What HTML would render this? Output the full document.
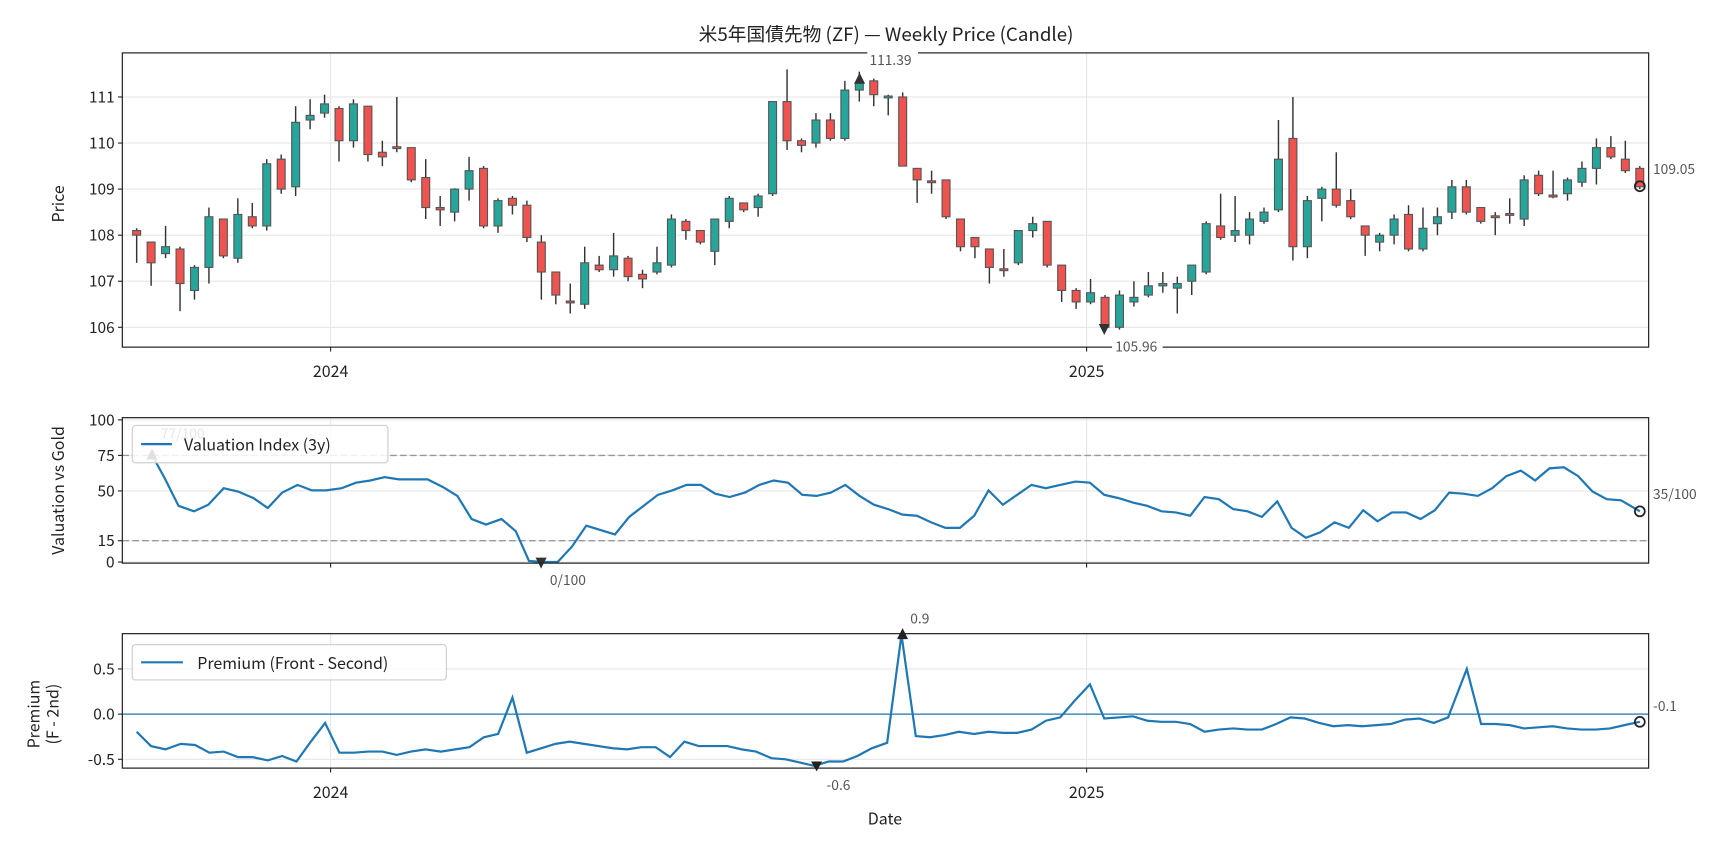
<!DOCTYPE html>
<html><head><meta charset="utf-8"><style>
html,body{margin:0;padding:0;background:#fff;width:1728px;height:849px;overflow:hidden}
svg{display:block}
text{font-family:"Noto Sans CJK JP","Liberation Sans",sans-serif;fill:#222}
</style></head><body>
<svg id="s" width="1728" height="849" viewBox="0 0 1568 770.4" xmlns="http://www.w3.org/2000/svg"></svg>
<script>
const C=[[108.1,108.0,108.15,107.4],[107.85,107.4,107.85,106.9],[107.6,107.75,108.2,107.5],[107.7,106.95,107.75,106.35],[106.8,107.3,107.35,106.6],[107.3,108.4,108.6,106.95],[108.35,107.55,108.35,107.5],[107.5,108.45,108.8,107.4],[108.4,108.2,108.7,108.15],[108.2,109.55,109.65,108.1],[109.65,109.0,109.75,108.9],[109.05,110.45,110.8,108.85],[110.5,110.6,110.95,110.3],[110.65,110.85,111.05,110.55],[110.75,110.05,110.8,109.6],[110.05,110.85,110.95,109.9],[110.8,109.75,110.8,109.6],[109.8,109.7,110.05,109.5],[109.92,109.88,111.0,109.8],[109.9,109.2,109.9,109.15],[109.25,108.6,109.65,108.35],[108.6,108.55,108.85,108.2],[108.5,109.0,109.02,108.3],[109.0,109.4,109.7,108.75],[109.45,108.2,109.5,108.15],[108.2,108.75,108.8,108.05],[108.8,108.65,108.85,108.45],[108.65,107.95,108.75,107.85],[107.85,107.2,108.0,106.6],[107.2,106.7,107.2,106.5],[106.57,106.53,106.95,106.3],[106.5,107.4,107.75,106.4],[107.35,107.25,107.55,107.2],[107.25,107.55,108.05,107.1],[107.5,107.1,107.55,107.0],[107.15,107.05,107.25,106.85],[107.2,107.4,107.75,107.15],[107.35,108.35,108.45,107.3],[108.3,108.1,108.35,107.9],[108.1,107.85,108.1,107.8],[107.65,108.35,108.35,107.35],[108.3,108.8,108.85,108.15],[108.7,108.55,108.7,108.5],[108.6,108.85,108.9,108.4],[108.9,110.9,110.9,108.85],[110.9,110.05,111.6,109.85],[110.05,109.95,110.1,109.8],[110.0,110.5,110.65,109.9],[110.5,110.1,110.65,110.05],[110.1,111.15,111.35,110.05],[111.15,111.3,111.55,110.9],[111.35,111.05,111.4,110.8],[110.98,111.02,111.05,110.6],[111.0,109.5,111.1,109.5],[109.45,109.2,109.45,108.7],[109.18,109.14,109.4,108.9],[109.2,108.4,109.2,108.35],[108.35,107.75,108.35,107.65],[107.95,107.75,107.95,107.5],[107.7,107.3,107.7,106.95],[107.27,107.23,107.7,107.1],[107.4,108.1,108.1,107.35],[108.1,108.25,108.4,107.95],[108.3,107.35,108.3,107.3],[107.35,106.8,107.35,106.55],[106.8,106.55,106.85,106.4],[106.55,106.75,107.05,106.5],[106.65,106.0,106.7,105.96],[106.0,106.7,106.8,105.95],[106.55,106.65,107.0,106.45],[106.7,106.9,107.2,106.65],[106.9,106.95,107.2,106.75],[106.85,106.95,107.1,106.3],[107.0,107.35,107.35,106.7],[107.2,108.25,108.3,107.15],[108.2,107.95,108.9,107.9],[108.0,108.1,108.85,107.85],[108.0,108.35,108.5,107.8],[108.3,108.5,108.6,108.25],[108.55,109.65,110.5,108.5],[110.1,107.75,111.0,107.45],[107.75,108.75,108.85,107.5],[108.8,109.0,109.05,108.3],[109.0,108.65,109.8,108.6],[108.75,108.4,109.0,108.35],[108.2,108.0,108.2,107.55],[107.85,108.0,108.05,107.65],[108.0,108.35,108.45,107.8],[108.45,107.7,108.65,107.65],[107.7,108.15,108.6,107.65],[108.25,108.4,108.6,108.0],[108.5,109.05,109.2,108.35],[109.05,108.5,109.2,108.45],[108.6,108.3,108.6,108.25],[108.42,108.38,108.5,108.0],[108.47,108.43,108.8,108.25],[108.35,109.2,109.3,108.2],[109.3,108.9,109.4,108.85],[108.87,108.83,109.4,108.8],[108.9,109.2,109.25,108.75],[109.15,109.45,109.6,109.05],[109.45,109.9,110.1,109.1],[109.9,109.7,110.15,109.65],[109.65,109.4,110.05,109.35],[109.45,109.05,109.5,109.0]];
const V=[[138,413],[150,435],[162,459],[176,464],[189,458],[203,443],[216,446],[230,452],[243,461],[256,447],[270,440],[283,445],[296,445],[310,443],[323,438],[336,436],[349,433],[362,435],[375,435],[388,435],[402,442],[415,450],[428,471],[441,476],[455,471],[468,482],[480,509],[493,510],[506,510],[519,496],[532,477],[545,481],[558,485],[571,469],[584,459],[597,449],[610,445],[623,440],[636,440],[649,448],[662,451],[676,447],[689,440],[702,436],[715,438],[728,449],[741,450],[754,447],[767,440],[780,450],[793,458],[806,462],[819,467],[832,468],[845,474],[858,479],[871,479],[884,468],[897,445],[910,458],[923,449],[936,440],[949,443],[962,440],[976,437],[989,438],[1002,449],[1015,452],[1028,456],[1041,459],[1054,464],[1067,465],[1080,468],[1093,451],[1106,453],[1119,462],[1132,464],[1145,469],[1159,455],[1172,479],[1185,488],[1198,483],[1211,474],[1224,479],[1237,463],[1250,473],[1263,465],[1276,465],[1289,471],[1302,463],[1315,447],[1328,448],[1341,450],[1354,443],[1367,432],[1380,427],[1393,436],[1406,425],[1419,424],[1432,432],[1445,446],[1458,453],[1471,454],[1488,464]];
const P=[[124,664],[137,677],[150,680],[164,675],[177,676],[190,683],[203,682],[216,687],[229,687],[243,690],[256,686],[269,691],[282,673],[295,656],[308,683],[321,683],[334,682],[347,682],[360,685],[373,682],[386,680],[400,682],[413,680],[426,678],[439,669],[452,666],[465,633],[478,683],[491,679],[504,675],[517,673],[530,675],[543,677],[556,679],[569,680],[582,678],[595,678],[608,687],[621,673],[634,677],[647,677],[660,677],[673,680],[686,682],[700,688],[713,689],[726,692],[739,695],[752,691],[765,691],[778,686],[791,679],[805,674],[818,576],[831,668],[844,669],[857,667],[870,664],[884,666],[897,664],[910,665],[923,665],[936,662],[949,654],[962,651],[975,636],[989,621],[1002,652],[1015,651],[1028,650],[1041,654],[1054,655],[1067,655],[1080,657],[1093,664],[1106,662],[1119,661],[1132,662],[1145,662],[1158,657],[1171,651],[1184,652],[1197,656],[1210,659],[1223,658],[1236,659],[1249,658],[1262,657],[1275,653],[1288,652],[1301,656],[1314,651],[1331,607],[1344,657],[1357,657],[1370,658],[1383,661],[1396,660],[1409,659],[1422,661],[1435,662],[1448,662],[1461,661],[1474,658],[1488,655]];
let h='';
const L=111,R=1496;
const py=p=>88+(111-p)*41.8;
function frame(t,b){h+=`<rect x="${L}" y="${t}" width="${R-L}" height="${b-t}" fill="none" stroke="#222" stroke-width="1.1"/>`;}
function hg(y){h+=`<line x1="${L}" x2="${R}" y1="${y}" y2="${y}" stroke="#e6e6e6" stroke-width="1"/>`;}
function vg(t,b){for(const x of [300,986]){h+=`<line x1="${x}" x2="${x}" y1="${t}" y2="${b}" stroke="#e6e6e6"/><line x1="${x}" x2="${x}" y1="${b}" y2="${b+4}" stroke="#222"/>`;}}
function yt(y,s){h+=`<line x1="${L-4}" x2="${L}" y1="${y}" y2="${y}" stroke="#222"/><text x="${L-7}" y="${y+5}" font-size="14" text-anchor="end">${s}</text>`;}
function lbl(x,y,s,anchor){h+=`<text x="${x}" y="${y}" font-size="12.5" style="fill:#555" text-anchor="${anchor||'start'}">${s}</text>`;}
h+=`<text x="804" y="37" font-size="17" text-anchor="middle">米5年国債先物 (ZF) — Weekly Price (Candle)</text>`;
for(let p=106;p<=111;p++){hg(py(p));yt(py(p),p);}
vg(48,315);
C.forEach((c,i)=>{const x=124+i*13.115;const [o,cl,hi,lo]=c;const up=cl>=o;
 h+=`<line x1="${x}" x2="${x}" y1="${py(hi)}" y2="${py(lo)}" stroke="#333" stroke-width="1.3"/>`;
 const t=py(Math.max(o,cl)),b=py(Math.min(o,cl));
 h+=`<rect x="${x-3.6}" y="${t}" width="7.2" height="${Math.max(b-t,1.5)}" fill="${up?'#26a69a':'#ef5350'}" stroke="#555" stroke-width="1"/>`;});
frame(48,315);
h+=`<text x="300" y="342" font-size="14.5" text-anchor="middle">2024</text><text x="986" y="342" font-size="14.5" text-anchor="middle">2025</text>`;
h+=`<text transform="translate(58,185) rotate(-90)" font-size="14.5" text-anchor="middle">Price</text>`;
h+=`<polygon points="775,76 785,76 780,66" fill="#333"/>`;h+=`<rect x="787" y="47" width="46" height="15" fill="#fff"/>`;lbl(789,59,'111.39');
h+=`<polygon points="997,294 1007,294 1002,304" fill="#333"/>`;h+=`<rect x="1009" y="307" width="46" height="14" fill="#fff"/>`;lbl(1012,319,'105.96');
h+=`<circle cx="1488" cy="169" r="4.5" fill="none" stroke="#222" stroke-width="1.6"/>`;lbl(1500,158,'109.05');
const vy=v=>510-v*1.29;
[[100,'100'],[75,'75'],[50,'50'],[15,'15'],[0,'0']].forEach(([v,s])=>{hg(vy(v));yt(vy(v),s);});
vg(379,511);
h+=`<line x1="${L}" x2="${R}" y1="${vy(75)}" y2="${vy(75)}" stroke="#999" stroke-dasharray="6,3" stroke-width="1.2"/>`;
h+=`<line x1="${L}" x2="${R}" y1="${vy(15)}" y2="${vy(15)}" stroke="#999" stroke-dasharray="6,3" stroke-width="1.2"/>`;
h+=`<polyline points="${V.map(p=>p.join(',')).join(' ')}" fill="none" stroke="#1f77b4" stroke-width="2"/>`;
lbl(146,398,'77/100');
h+=`<polygon points="133,417 143,417 138,407" fill="#333"/>`;
h+=`<polygon points="486,506 496,506 491,516" fill="#333"/>`;lbl(499,531,'0/100');
h+=`<circle cx="1488" cy="464" r="4.5" fill="none" stroke="#222" stroke-width="1.6"/>`;lbl(1500,453,'35/100');
h+=`<rect x="120" y="386" width="232" height="34" rx="3" fill="#fff" fill-opacity="0.85" stroke="#ccc"/><line x1="128" x2="156" y1="403" y2="403" stroke="#1f77b4" stroke-width="2"/><text x="167" y="409" font-size="14.5">Valuation Index (3y)</text>`;
frame(379,511);
h+=`<text transform="translate(58,445) rotate(-90)" font-size="14.5" text-anchor="middle">Valuation vs Gold</text>`;
const ry=v=>648-v*82;
[[0.5,'0.5'],[0,'0.0'],[-0.5,'-0.5']].forEach(([v,s])=>{hg(ry(v));yt(ry(v),s);});
vg(575,697);
h+=`<line x1="${L}" x2="${R}" y1="648" y2="648" stroke="#1f77b4" stroke-width="1.2"/>`;
h+=`<polyline points="${P.map(p=>p.join(',')).join(' ')}" fill="none" stroke="#1f77b4" stroke-width="2"/>`;
h+=`<polygon points="814,580 824,580 819,570" fill="#222"/>`;lbl(826,566,'0.9');
h+=`<polygon points="736,691 746,691 741,700" fill="#222"/>`;lbl(750,717,'-0.6');
h+=`<circle cx="1488" cy="655" r="4.5" fill="none" stroke="#222" stroke-width="1.6"/>`;lbl(1500,645,'-0.1');
h+=`<rect x="120" y="585" width="285" height="32" rx="3" fill="#fff" fill-opacity="0.85" stroke="#ccc"/><line x1="128" x2="166" y1="601" y2="601" stroke="#1f77b4" stroke-width="2"/><text x="179" y="607" font-size="14.5">Premium (Front - Second)</text>`;
frame(575,697);
h+=`<text x="300" y="724" font-size="14.5" text-anchor="middle">2024</text><text x="986" y="724" font-size="14.5" text-anchor="middle">2025</text>`;
h+=`<text x="803" y="748" font-size="14.5" text-anchor="middle">Date</text>`;
h+=`<text transform="translate(36,648) rotate(-90)" font-size="14.5" text-anchor="middle">Premium</text><text transform="translate(53,648) rotate(-90)" font-size="14.5" text-anchor="middle">(F - 2nd)</text>`;
document.getElementById('s').innerHTML=h;
</script>
</body></html>
